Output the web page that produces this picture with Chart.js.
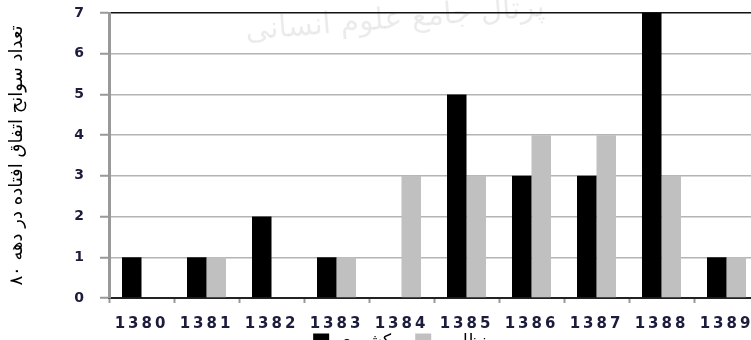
<!DOCTYPE html>
<html>
<head>
<meta charset="utf-8">
<script src="https://cdn.jsdelivr.net/npm/chart.js@4"></script>
<style>
  body { margin: 0; background: #fff; }
  #clip { width: 751px; height: 340px; overflow: hidden; position: relative; }
  #wrap { width: 800px; height: 360px; position: absolute; left: 0; top: 0; }
</style>
</head>
<body>
<div id="clip"><div id="wrap"><canvas id="accidentChart"></canvas></div></div>
<script>
var years = ["1380", "1381", "1382", "1383", "1384", "1385", "1386", "1387", "1388", "1389"];
var civil = [1, 1, 2, 1, 0, 5, 3, 3, 7, 1];      // کشوری
var military = [0, 1, 0, 1, 3, 3, 4, 4, 3, 1];   // نظامی
var seriesNames = ["کشوری", "نظامی"];
var yTitle = "تعداد سوانح اتفاق افتاده در دهه ۸۰";
var watermark = "پرتال جامع علوم انسانی";

// x labels in the picture are spaced out and sit below the squeezed axis box
const spacedLabels = {
    id: "spacedLabels",
    beforeDraw(chart) {
        const s = chart.scales.x;
        if (s._spaced) return;
        const orig = s.drawLabels;
        s._computeLabelArea = () => undefined;
        s.drawLabels = function (area) {
            this.ctx.save();
            this.ctx.letterSpacing = "3px";
            orig.call(this, area);
            this.ctx.restore();
        };
        s._spaced = true;
    }
};

// legend is centred a bit right of the canvas middle
const legendShift = {
    id: "legendShift",
    afterLayout(chart) {
        chart.legend.left += 41;
    }
};

const faintMark = {
    id: "faintMark",
    beforeDraw(chart) {
        const ctx = chart.ctx;
        ctx.save();
        ctx.translate(395, 20);
        ctx.rotate(-0.08);
        ctx.font = "30px 'DejaVu Sans'";
        ctx.fillStyle = "rgba(0,0,0,0.08)";
        ctx.textAlign = "center";
        ctx.textBaseline = "middle";
        ctx.fillText(watermark, 0, 0);
        ctx.restore();
    }
};

const data = {
    labels: years,
    datasets: [
        {
            label: seriesNames[0],
            backgroundColor: "#000000",
            borderWidth: 0,
            data: civil
        },
        {
            label: seriesNames[1],
            backgroundColor: "#c0c0c0",
            borderWidth: 0,
            data: military
        }
    ]
};

const config = {
    type: "bar",
    data: data,
    options: {
        responsive: true,
        maintainAspectRatio: false,
        animation: false,
        categoryPercentage: 0.6,
        barPercentage: 1,
        layout: { padding: { top: 13, right: 41, left: 0, bottom: 0 } },
        plugins: {
            tooltip: { enabled: false },
            legend: {
                position: "bottom",
                labels: {
                    boxWidth: 16,
                    boxHeight: 16,
                    padding: 24,
                    color: "#000",
                    font: { family: "'DejaVu Sans'", size: 17 }
                }
            }
        },
        scales: {
            x: {
                afterFit: s => { s.height = 11; },
                grid: {
                    drawOnChartArea: false,
                    tickLength: 5,
                    tickColor: "#999",
                    tickWidth: 2
                },
                border: { color: "#222", width: 2 },
                ticks: {
                    padding: 12,
                    maxRotation: 0,
                    autoSkip: false,
                    color: "#1c1c3c",
                    font: { family: "'DejaVu Sans'", size: 15, weight: "bold" }
                }
            },
            y: {
                min: 0,
                max: 7,
                afterFit: s => { s.width = 109; s.paddingTop = 7; },
                grid: {
                    color: c => (c.tick && (c.tick.value === 7 || c.tick.value === 0)) ? "#111" : "#b4b4b4",
                    lineWidth: 1.5,
                    tickLength: 9,
                    tickColor: "#999",
                    tickWidth: 2
                },
                border: { color: "#999", width: 3 },
                ticks: {
                    stepSize: 1,
                    padding: 16,
                    color: "#1c1c3c",
                    font: { family: "'DejaVu Sans'", size: 14, weight: "bold" }
                },
                title: {
                    display: true,
                    text: yTitle,
                    color: "#000",
                    padding: { top: 7, bottom: 0 },
                    font: { family: "'DejaVu Sans'", size: 18 }
                }
            }
        }
    },
    plugins: [spacedLabels, legendShift, faintMark]
};
const myChart = new Chart(document.getElementById("accidentChart"), config);
</script>
</body>
</html>
